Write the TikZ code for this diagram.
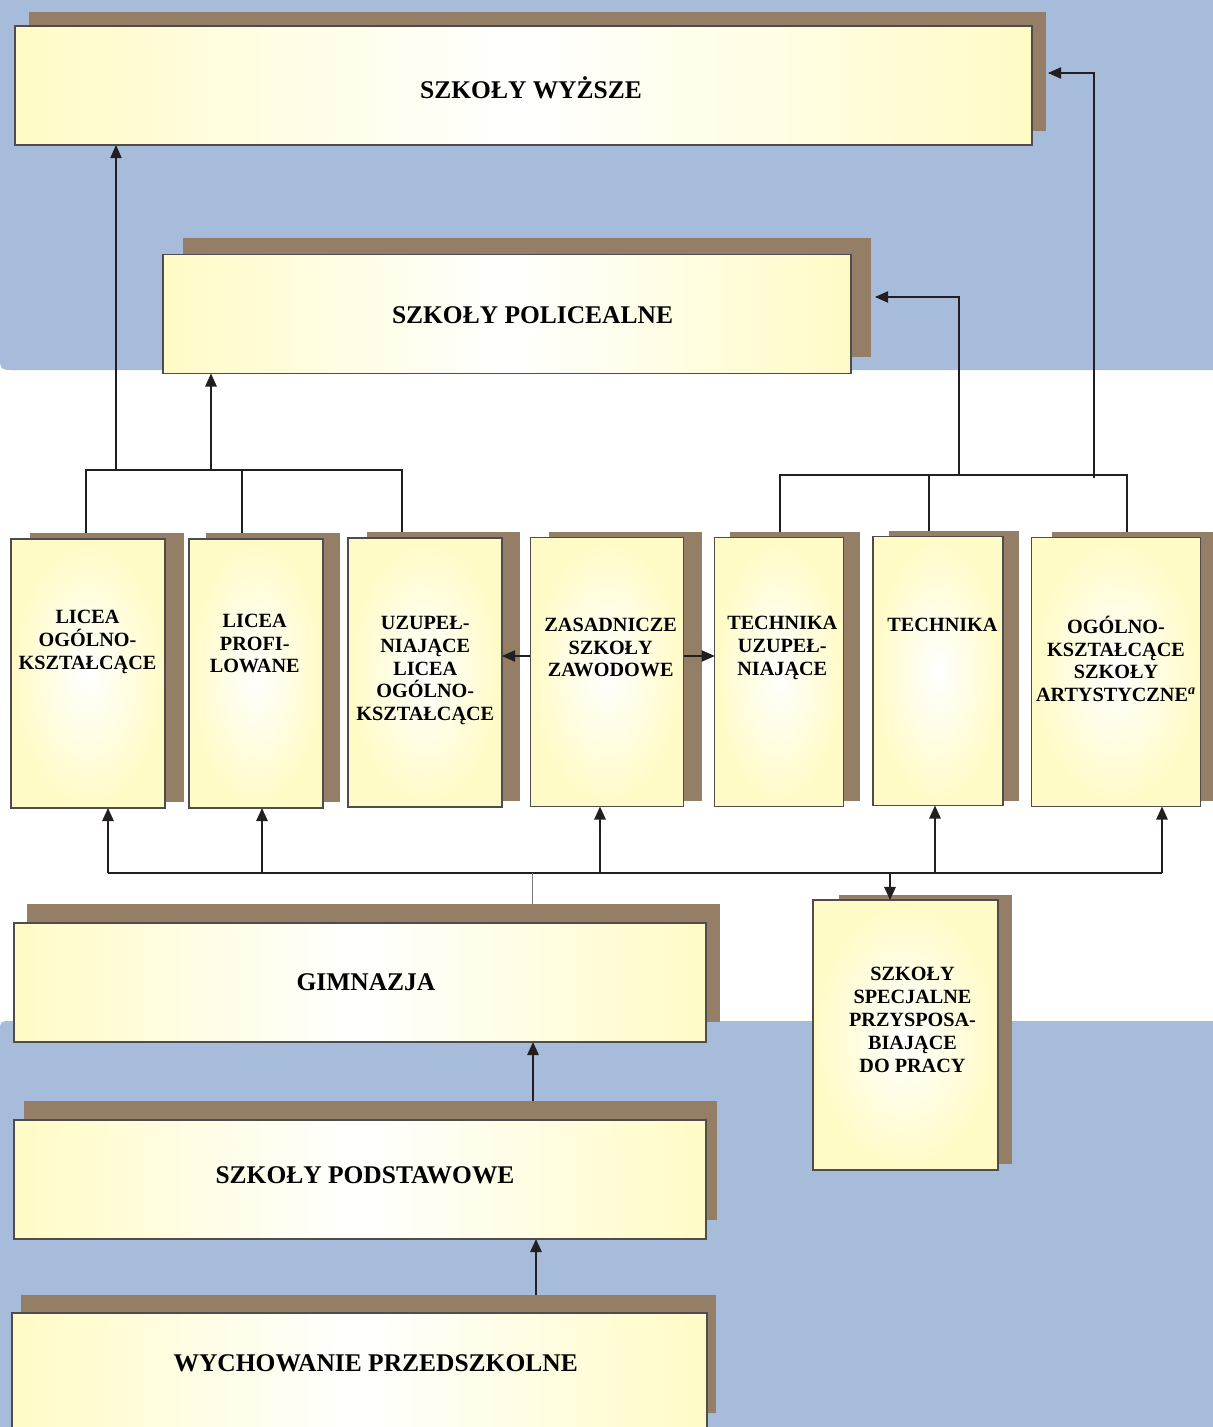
\documentclass[tikz,border=0pt]{standalone}
\usepackage{fontspec}
\setmainfont{Liberation Serif}
\usepackage{tikz}
\usetikzlibrary{arrows.meta,backgrounds}
\definecolor{bandblue}{HTML}{A7BBDB}
\definecolor{shadebrown}{HTML}{947F66}
\definecolor{paleyel}{HTML}{FFFBC6}
\definecolor{ink}{HTML}{231F20}

\begin{document}
\begin{tikzpicture}[x=0.02cm,y=-0.02cm,
  box/.style={draw=ink!80,line width=0.7pt,inner sep=0pt,outer sep=0pt},
  widebox/.style={box,left color=paleyel,right color=paleyel,middle color=white,minimum height=2.38cm},
  tallbox/.style={box,inner color=white,outer color=paleyel,minimum height=5.38cm},
  biglbl/.style={font=\bfseries\fontsize{14.5}{17}\selectfont,inner sep=0pt},
  lbl/.style={font=\bfseries\fontsize{11.5}{13}\selectfont,align=center,inner sep=0pt},
  link/.style={draw=ink,line width=0.6pt},
  heavy/.style={line width=1.1pt},
  arr/.style={link,-{Triangle[length=7.5pt,width=6.5pt]}}]
  \useasboundingbox (0,0) rectangle (1213,1427);
  \clip (0,0) rectangle (1213,1427);

  \node[widebox,minimum width=20.34cm] (wyzsze) at (523.5,85.5) {};
  \node[widebox,minimum width=13.76cm] (policealne) at (507,314) {};
  \node[tallbox,minimum width=3.08cm] (liceaog) at (88,673.5) {};
  \node[tallbox,minimum width=2.68cm] (liceaprof) at (256,673.5) {};
  \node[tallbox,minimum width=3.08cm] (uzuplicea) at (425,672.5) {};
  \node[tallbox,minimum width=3.07cm] (zasadnicze) at (607,672) {};
  \node[tallbox,minimum width=2.57cm] (techuzup) at (779,672) {};
  \node[tallbox,minimum width=2.6cm] (technika) at (938,671) {};
  \node[tallbox,minimum width=3.37cm] (artyst) at (1116,672) {};
  \node[widebox,minimum width=13.84cm] (gimnazja) at (360,982.5) {};
  \node[tallbox,minimum width=3.7cm,minimum height=5.4cm] (specjalne) at (905.5,1035) {};
  \node[widebox,minimum width=13.84cm] (podstawowe) at (360,1179.5) {};
  \node[widebox,minimum width=13.9cm] (przedszkole) at (359.5,1372.5) {};

  \node[biglbl] (twyzsze) at (531,88) {SZKOŁY WYŻSZE};
  \node[biglbl] (tpolicealne) at (532.5,315) {SZKOŁY POLICEALNE};
  \node[lbl] (tliceaog) at (87.5,642) {LICEA\\OGÓLNO-\\KSZTAŁCĄCE};
  \node[lbl] (tliceaprof) at (254.7,643.5) {LICEA\\PROFI-\\LOWANE};
  \node[lbl] (tuzuplicea) at (425.3,670.5) {UZUPEŁ-\\NIAJĄCE\\LICEA\\OGÓLNO-\\KSZTAŁCĄCE};
  \node[lbl] (tzasadnicze) at (610.7,647.5) {ZASADNICZE\\SZKOŁY\\ZAWODOWE};
  \node[lbl] (ttechuzup) at (782.3,648) {TECHNIKA\\UZUPEŁ-\\NIAJĄCE};
  \node[lbl] (ttechnika) at (942.5,625) {TECHNIKA};
  \node[lbl] (tartyst) at (1116,659) {OGÓLNO-\\KSZTAŁCĄCE\\SZKOŁY\\ARTYSTYCZNE\textsuperscript{\textit{a}}};
  \node[biglbl] (tgimnazja) at (366,981.7) {GIMNAZJA};
  \node[lbl] (tspecjalne) at (912.5,1020) {SZKOŁY\\SPECJALNE\\PRZYSPOSA-\\BIAJĄCE\\DO PRACY};
  \node[biglbl] (tpodstawowe) at (365,1175) {SZKOŁY PODSTAWOWE};
  \node[biglbl] (tprzedszkole) at (375.7,1363.3) {WYCHOWANIE PRZEDSZKOLNE};

  \coordinate (lbl) at (86,470);
  \coordinate (lbm) at (242,470);
  \coordinate (lbr) at (402,470);
  \coordinate (lupw) at (116,470);
  \coordinate (lupp) at (211,470);
  \coordinate (rbl) at (780,475);
  \coordinate (rbm) at (929,475);
  \coordinate (rbr) at (1127,475);
  \coordinate (rupp) at (959,475);
  \coordinate (rupw) at (1094,478);
  \coordinate (polin) at (875,297);
  \coordinate (wyzin) at (1048,73);
  \coordinate (bbl) at (108,873);
  \coordinate (bbr) at (1162,873);
  \coordinate (zmid) at (607,656);

  \begin{scope}[on background layer]
    \fill[white] (0,0) rectangle (1213,1427);
    \fill[bandblue] (0,0) -- (1213,0) -- (1213,370) -- (15,370) .. controls (0,370) .. (0,355) -- cycle;
    \fill[bandblue] (0,1427) -- (1213,1427) -- (1213,1021) -- (12,1021) .. controls (0,1021) .. (0,1033) -- cycle;

    \draw[link] (liceaog.north -| lbl) -- (lbl) -- (lbr) -- (uzuplicea.north -| lbr);
    \draw[link] (lbm) -- (liceaprof.north -| lbm);
    \draw[arr] (lupw) -- (wyzsze.south -| lupw);
    \draw[arr,heavy] (lupp) -- (policealne.south -| lupp);
    \draw[link] (techuzup.north -| rbl) -- (rbl) -- (rbr) -- (artyst.north -| rbr);
    \draw[link,heavy] (rbm) -- (technika.north -| rbm);
    \draw[arr] (rupp) |- (polin);
    \draw[arr] (rupw) |- (wyzin);
    \draw[link,heavy] (bbl) -- (bbr);
    \foreach \n/\x in {liceaog/108,liceaprof/262,zasadnicze/600,technika/935,artyst/1162}
       {\draw[arr,heavy] (\x,873) -- (\n.south -| \x,873);}
    \draw[draw=ink!60,line width=0.5pt] (532,873) -- (gimnazja.north -| 532,873);
    \draw[arr,heavy] (podstawowe.north -| 533,0) -- (gimnazja.south -| 533,0);
    \draw[arr,heavy] (przedszkole.north -| 536,0) -- (podstawowe.south -| 536,0);

    \foreach \xa/\ya/\xb/\yb in {29/12/1046/131,183/238/871/357,30/533/184/802,206/533/340/802,
       367/532/520/801,549/532/702/801,730/532/860/801,889/531/1019/801,1052/532/1213/801,
       27/904/720/1022,839/895/1012/1164,24/1101/717/1220,21/1295/716/1413}
       {\fill[shadebrown] (\xa,\ya) rectangle (\xb,\yb);}
  \end{scope}

  \draw[arr] (zasadnicze.west |- zmid) -- (uzuplicea.east |- zmid);
  \draw[arr] (zasadnicze.east |- zmid) -- (techuzup.west |- zmid);
  \draw[arr,heavy] (890,873) -- (specjalne.north -| 890,0);
\end{tikzpicture}
\end{document}
